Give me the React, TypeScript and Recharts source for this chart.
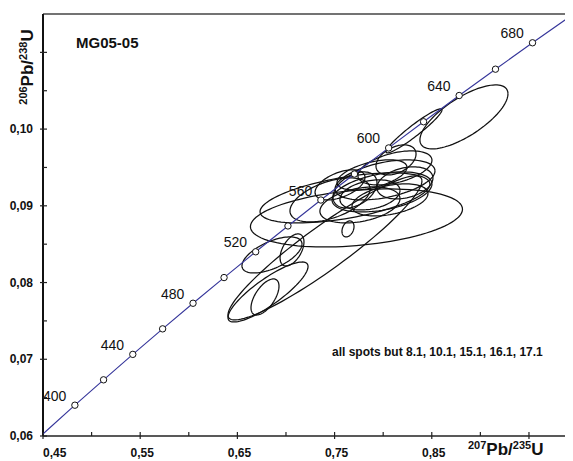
import React from 'react';
import { ComposedChart, Scatter, XAxis, YAxis, ReferenceLine } from 'recharts';

// Concordia curve (ages in Ma, 207Pb/235U, 206Pb/238U)
const concordiaAges = [376, 380, 400, 420, 440, 460, 480, 500, 520, 540, 560, 580, 600, 620, 640, 660, 680, 700, 710];
const concordiaX = [0.448175, 0.453891, 0.482812, 0.512309, 0.542392, 0.573073, 0.604365, 0.636279, 0.668828, 0.702026, 0.735882, 0.770414, 0.80563, 0.841548, 0.878182, 0.915543, 0.953647, 0.99251, 1.012231];
const concordiaY = [0.060062, 0.06072, 0.064015, 0.067322, 0.070638, 0.073965, 0.077302, 0.08065, 0.084008, 0.087376, 0.090755, 0.094144, 0.097544, 0.100955, 0.104375, 0.107807, 0.111249, 0.114702, 0.116433];
const markerAges = [400, 420, 440, 460, 480, 500, 520, 540, 560, 580, 600, 620, 640, 660, 680, 700];
const labelAges = [400, 440, 480, 520, 560, 600, 640, 680];

// Error ellipses: centre, half-extent in x and y, correlation
const spotX = [0.8831, 0.8317, 0.8132, 0.8121, 0.8019, 0.7988, 0.7725, 0.7607, 0.7453, 0.771, 0.7864, 0.7638, 0.7401, 0.6815, 0.6784, 0.6856, 0.7062, 0.7761, 0.7556, 0.7885, 0.8224, 0.807];
const spotY = [0.10159, 0.09977, 0.09598, 0.09494, 0.09338, 0.09181, 0.08842, 0.09103, 0.09077, 0.09207, 0.09142, 0.08699, 0.08451, 0.07877, 0.07812, 0.0836, 0.08425, 0.09012, 0.09273, 0.09403, 0.09299, 0.09077];
const spotSX = [0.0453, 0.0288, 0.0206, 0.0381, 0.0514, 0.0514, 0.1091, 0.0874, 0.0412, 0.0226, 0.0309, 0.0062, 0.0998, 0.0412, 0.0144, 0.0309, 0.0123, 0.0412, 0.0257, 0.036, 0.0288, 0.0391];
const spotSY = [0.00417, 0.00287, 0.00196, 0.00222, 0.00261, 0.00261, 0.00378, 0.00326, 0.00287, 0.00235, 0.00196, 0.00104, 0.00939, 0.00391, 0.00235, 0.00235, 0.00209, 0.00235, 0.00196, 0.00196, 0.00209, 0.00209];
const spotRho = [0.72, 0.95, 0.4, 0.45, 0.45, 0.4, 0.3, 0.55, 0.5, 0.4, 0.3, 0.3, 0.93, 0.85, 0.6, 0.6, 0.5, 0.35, 0.5, 0.5, 0.3, 0.4];

// Axis ticks
const xTickValues = [0.45, 0.5, 0.55, 0.6, 0.65, 0.7, 0.75, 0.8, 0.85, 0.9, 0.95];
const xTickMajor = [true, false, true, false, true, false, true, false, true, false, true];
const xTickLabels = ['0,45', '', '0,55', '', '0,65', '', '0,75', '', '0,85', '', ''];
const yTickValues = [0.06, 0.065, 0.07, 0.075, 0.08, 0.085, 0.09, 0.095, 0.1, 0.105, 0.11];
const yTickMajor = [true, false, true, false, true, false, true, false, true, false, true];
const yTickLabels = ['0,06', '', '0,07', '', '0,08', '', '0,09', '', '0,10', '', ''];

const FONT = '"Liberation Sans", Arial, Helvetica, sans-serif';
const STEPS = 96;

const concordiaLine = concordiaAges.map((a, i) => ({ age: a, x: concordiaX[i], y: concordiaY[i] }));
const markers = concordiaLine.filter((p) => markerAges.includes(p.age));
const labels = concordiaLine.filter((p) => labelAges.includes(p.age));

const ellipses = spotX.map((cx, i) => {
  const r = spotRho[i];
  const k = Math.sqrt(1 - r * r);
  const pts: { x: number; y: number }[] = [];
  for (let s = 0; s <= STEPS; s++) {
    const t = (2 * Math.PI * s) / STEPS;
    pts.push({ x: cx + spotSX[i] * Math.cos(t), y: spotY[i] + spotSY[i] * (r * Math.cos(t) + k * Math.sin(t)) });
  }
  return pts;
});

const findIdx = (arr: number[], v: number) => arr.findIndex((t) => Math.abs(t - v) < 1e-9);

const XTick = (props: any) => {
  const { x, y, payload } = props;
  const i = findIdx(xTickValues, payload.value);
  if (i < 0) return null;
  const major = xTickMajor[i];
  const label = xTickLabels[i];
  return (
    <g>
      <line x1={x} x2={x} y1={y - 4} y2={major ? y + 3 : y} stroke="#222" strokeWidth={1.2} />
      {label ? (
        <text x={i === 0 ? x : x + 2} y={y + 21} textAnchor={i === 0 ? 'start' : 'middle'} fontFamily={FONT} fontWeight="bold" fontSize={12} fill="#111">
          {label}
        </text>
      ) : null}
    </g>
  );
};

const YTick = (props: any) => {
  const { x, y, payload } = props;
  const i = findIdx(yTickValues, payload.value);
  if (i < 0) return null;
  const major = yTickMajor[i];
  const label = yTickLabels[i];
  return (
    <g>
      <line x1={major ? x - 3 : x} x2={x + 4} y1={y} y2={y} stroke="#222" strokeWidth={1.2} />
      {label ? (
        <text x={x - 10} y={y + 4} textAnchor="end" fontFamily={FONT} fontWeight="bold" fontSize={12} fill="#111">
          {label}
        </text>
      ) : null}
    </g>
  );
};

const NoShape = () => <g />;
const Marker = (p: any) => <circle cx={p.cx} cy={p.cy} r={3.2} fill="#fff" stroke="#111" strokeWidth={1} />;
const AgeLabel = (p: any) => (
  <text x={p.cx - 32} y={p.cy - 4.5} fontFamily={FONT} fontSize={14} fill="#111">
    {p.payload.age}
  </text>
);

export default function App() {
  return (
    <div style={{ position: 'relative', width: 565, height: 453 }}>
      <ComposedChart width={565} height={453} margin={{ top: 6, right: 0, bottom: 0, left: 0 }}>
        <XAxis
          type="number"
          dataKey="x"
          domain={[0.45, 0.9953]}
          allowDataOverflow
          ticks={xTickValues}
          interval={0}
          tickLine={false}
          tickSize={0}
          tickMargin={0}
          tick={<XTick />}
          height={25}
          axisLine={{ stroke: '#222', strokeWidth: 1.5 }}
        />
        <YAxis
          type="number"
          dataKey="y"
          domain={[0.06, 0.115]}
          allowDataOverflow
          ticks={yTickValues}
          interval={0}
          tickLine={false}
          tickSize={0}
          tickMargin={0}
          tick={<YTick />}
          width={35}
          axisLine={{ stroke: '#111', strokeWidth: 2 }}
        />
        <ReferenceLine y={0.115} stroke="#444" strokeWidth={1.5} />
        {ellipses.map((pts, i) => (
          <Scatter
            key={'e' + i}
            data={pts}
            fill="none"
            line={{ stroke: '#111', strokeWidth: 1.25, fill: 'none' }}
            lineType="joint"
            shape={NoShape}
            isAnimationActive={false}
          />
        ))}
        <Scatter
          data={concordiaLine}
          fill="none"
          line={{ stroke: '#35359a', strokeWidth: 1.1, fill: 'none' }}
          lineType="joint"
          shape={NoShape}
          isAnimationActive={false}
        />
        <Scatter data={markers} shape={Marker} isAnimationActive={false} />
        <Scatter data={labels} shape={AgeLabel} isAnimationActive={false} />
      </ComposedChart>
      <svg width={565} height={453} style={{ position: 'absolute', left: 0, top: 0, pointerEvents: 'none' }}>
        <text x={68} y={40} fontFamily={FONT} fontWeight="bold" fontSize={15} fill="#111">
          MG05-05
        </text>
        <text x={324} y={348} fontFamily={FONT} fontWeight="bold" fontSize={12} fill="#111">
          all spots but 8.1, 10.1, 15.1, 16.1, 17.1
        </text>
        <text x={460} y={447} fontFamily={FONT} fontWeight="bold" fill="#111">
          <tspan fontSize={11} dy={-6}>207</tspan>
          <tspan fontSize={17} dy={6}>Pb/</tspan>
          <tspan fontSize={11} dy={-6}>235</tspan>
          <tspan fontSize={17} dy={6}>U</tspan>
        </text>
        <text x={25} y={59} transform="rotate(-90 25 59)" textAnchor="middle" fontFamily={FONT} fontWeight="bold" fill="#111">
          <tspan fontSize={11} dy={-6}>206</tspan>
          <tspan fontSize={17} dy={6}>Pb/</tspan>
          <tspan fontSize={11} dy={-6}>238</tspan>
          <tspan fontSize={17} dy={6}>U</tspan>
        </text>
      </svg>
    </div>
  );
}
